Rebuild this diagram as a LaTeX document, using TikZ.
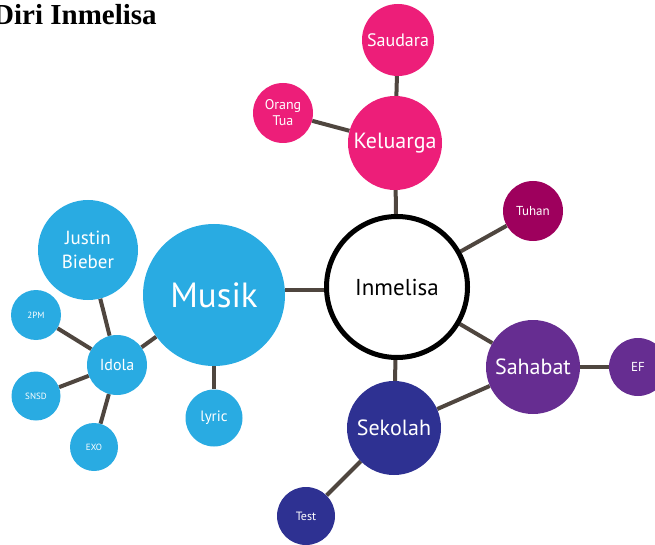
\documentclass[tikz,border=0pt]{standalone}
\usepackage{fontspec}
\newfontfamily\bubfont{PT Sans}
\newfontfamily\titlefont{Liberation Serif}
\usetikzlibrary{backgrounds}
\definecolor{cblue}{HTML}{29ABE2}
\definecolor{cpink}{HTML}{ED1E79}
\definecolor{cmag}{HTML}{9E005D}
\definecolor{cpurple}{HTML}{662D91}
\definecolor{cnavy}{HTML}{2E3192}
\definecolor{clink}{HTML}{4F463F}
\tikzset{
  bub/.style 2 args={circle, fill=#1, draw=none, text=white, inner sep=0pt, align=center, minimum size=#2},
  fs/.style={font={\bubfont\fontsize{#1}{#1}\selectfont}},
  link/.style={draw=clink, line width=4pt},
}
\begin{document}
\begin{tikzpicture}[x=1pt,y=-1pt]
\useasboundingbox (0,0) rectangle (655,545);
\node[anchor=base west, inner sep=0pt, font={\titlefont\bfseries\fontsize{29}{31}\selectfont}] (title) at (-7,25) {Diri Inmelisa};
% centre
\node[circle, draw=black, fill=white, line width=5pt, minimum size=141pt, inner sep=0pt, fs=23] (inm) at (397,287) {Inmelisa};
% family
\node[bub={cpink}{94pt}, fs=22] (kel) at (395,143) {Keluarga};
\node[bub={cpink}{72pt}, fs=18] (sau) at (398,40) {Saudara};
\node[bub={cpink}{60pt}, fs=14] (ort) at (283,113) {Orang\\[2pt]Tua};
\node[bub={cmag}{60pt}, fs=13] (tuh) at (533,211) {Tuhan};
% music
\node[bub={cblue}{142pt}, fs=35] (mus) at (214,295) {Musik};
\node[bub={cblue}{100pt}, fs=19] (jb) at (88,250) {Justin\\[5pt]Bieber};
\node[bub={cblue}{60pt}, fs=16] (ido) at (117,365) {Idola};
\node[bub={cblue}{50pt}, fs=9] (pm) at (36,315) {2PM};
\node[bub={cblue}{49pt}, fs=9] (snsd) at (36,396) {SNSD};
\node[bub={cblue}{48pt}, fs=9] (exo) at (94,447) {EXO};
\node[bub={cblue}{57pt}, fs=15] (lyr) at (214,418) {lyric};
% friends & school
\node[bub={cpurple}{94pt}, fs=22] (sah) at (533,367) {Sahabat};
\node[bub={cpurple}{58pt}, fs=13] (ef) at (638,367) {EF};
\node[bub={cnavy}{94pt}, fs=22] (sek) at (394,428) {Sekolah};
\node[bub={cnavy}{58pt}, fs=12] (tst) at (306,516) {Test};
\begin{scope}[on background layer]
\draw[link] (inm) -- (kel);
\draw[link] (kel) -- (sau);
\draw[link] (kel) -- (ort);
\draw[link] (inm) -- (tuh);
\draw[link] (inm.west |- 0,290) -- (mus.east |- 0,290);
\draw[link] (mus) -- (ido);
\draw[link] (mus) -- (lyr);
\draw[link] (ido) -- (jb);
\draw[link] (ido) -- (pm);
\draw[link] (ido) -- (snsd);
\draw[link] (ido) -- (exo);
\draw[link] (inm) -- (sah);
\draw[link] (inm) -- (sek);
\draw[link] (sek) -- (sah);
\draw[link] (sah) -- (ef);
\draw[link] (sek) -- (tst);
\end{scope}
\end{tikzpicture}
\end{document}
